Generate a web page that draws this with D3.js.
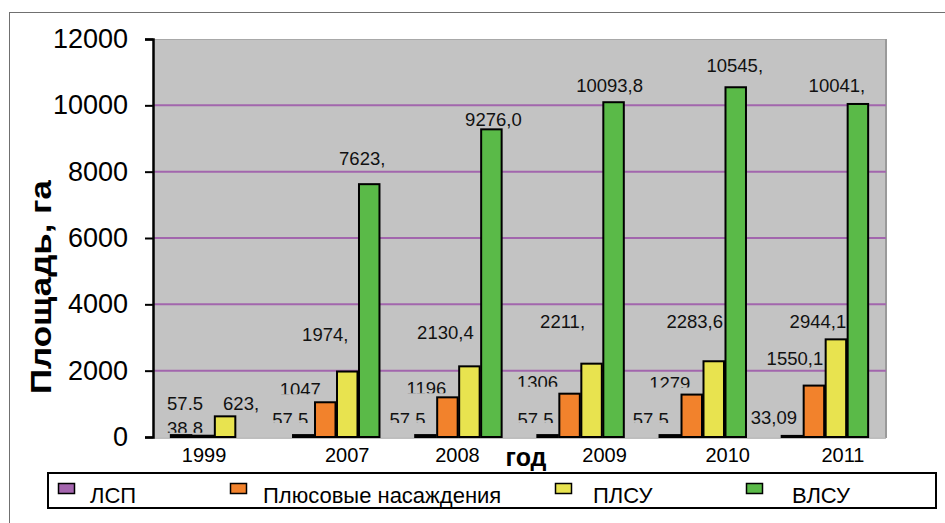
<!DOCTYPE html>
<html>
<head>
<meta charset="utf-8">
<script src="https://d3js.org/d3.v7.min.js"></script>
<style>
  body { margin: 0; background: #fff; }
  svg { display: block; font-family: "Liberation Sans", Arial, sans-serif; }
</style>
</head>
<body>
<svg width="945" height="523"></svg>
<script>
// data
var years = ["1999", "2007", "2008", "2009", "2010", "2011"];
var seriesNames = ["ЛСП", "Плюсовые насаждения", "ПЛСУ", "ВЛСУ"];
var lsp   = [57.5, 57.5, 57.5, 57.5, 57.5, 33.09];
var plus  = [38.8, 1047, 1196, 1306, 1279, 1550.1];
var plsu  = [623, 1974, 2130.4, 2211, 2283.6, 2944.1];
var vlsu  = [null, 7623, 9276, 10093.8, 10545, 10041];
// labels as they show in the picture (cut off by the chart)
var lspText  = ["57.5", "57.5", "57.5", "57.5", "57.5", "33,09"];
var plusText = ["38.8", "1047", "1196", "1306", "1279", "1550,1"];
var plsuText = ["623,", "1974,", "2130,4", "2211,", "2283,6", "2944,1"];
var vlsuText = ["", "7623,", "9276,0", "10093,8", "10545,", "10041,"];
var yTicks = [0, 2000, 4000, 6000, 8000, 10000, 12000];

var colors = ["#a465ae", "#f2822c", "#e8e34f", "#5aba48"];

// label nudges (layout only): dx from bar centre, rise of baseline above bar top, clip px
var labelDx   = [[4, -13, -18, -12, -19, -18], [-18, -25, -21, -32, -22, -19],
                 [16, -22, -24, -29, -19, -18], [0, -7, 2, -4, -1, -21]];
var labelRise = [[25, 9, 9, 9, 9, 12], [1, 6, 2, 5, 5, 21],
                 [6, 31, 27, 36, 33, 11], [0, 19, 3, 10, 15, 12]];
var labelClip = [[0, 3, 3, 3, 3, 0], [2, 2, 2, 2, 2, 0],
                 [0, 0, 0, 0, 0, 0], [0, 0, 0, 0, 0, 0]];
var tickDx = [-10, 11, -1, 24, 25, 18];

var values = [lsp, plus, plsu, vlsu];
var texts = [lspText, plusText, plsuText, vlsuText];

var svg = d3.select("svg");
var plotL = 153, plotR = 886, plotT = 39, plotB = 437;

// outer frame (right/bottom edges fall outside the picture)
svg.append("rect")
  .attr("x", 9.5).attr("y", 12.5)
  .attr("width", 960).attr("height", 540)
  .attr("fill", "none").attr("stroke", "#707070").attr("stroke-width", 1);

var x0 = d3.scaleBand().domain(years).range([plotL, plotR])
  .paddingInner(0.28).paddingOuter(0.14);
var x1 = d3.scaleBand().domain(d3.range(seriesNames.length)).range([0, x0.bandwidth()]);
var y = d3.scaleLinear().domain([0, 12000]).range([plotB, plotT]);

// plot area
svg.append("rect")
  .attr("x", plotL).attr("y", plotT)
  .attr("width", plotR - plotL).attr("height", plotB - plotT)
  .attr("fill", "#c3c3c3");
svg.append("line")
  .attr("x1", plotL).attr("x2", plotR).attr("y1", plotT + 0.5).attr("y2", plotT + 0.5)
  .attr("stroke", "#a8a8a8").attr("stroke-width", 1);
svg.append("line")
  .attr("x1", plotR).attr("x2", plotR).attr("y1", plotT).attr("y2", plotB + 1)
  .attr("stroke", "#9a9a9a").attr("stroke-width", 2);
svg.append("line")
  .attr("x1", plotL).attr("x2", plotR).attr("y1", plotB + 1).attr("y2", plotB + 1)
  .attr("stroke", "#a8a8a8").attr("stroke-width", 1.5);

// grid lines
svg.append("g").selectAll("line")
  .data(yTicks.filter(function(t) { return t > 0 && t < 12000; }))
  .enter().append("line")
  .attr("x1", plotL).attr("x2", plotR)
  .attr("y1", function(d) { return y(d); })
  .attr("y2", function(d) { return y(d); })
  .attr("stroke", "#a266ad").attr("stroke-width", 2);

// bars
var groups = svg.append("g").selectAll("g")
  .data(years)
  .enter().append("g")
  .attr("transform", function(d) { return "translate(" + x0(d) + ",0)"; });

groups.selectAll("rect")
  .data(function(d, i) {
    return values.map(function(s, k) { return {k: k, v: s[i]}; })
      .filter(function(e) { return e.v != null; });
  })
  .enter().append("rect")
  .attr("x", function(d) { return x1(d.k) + 0.75; })
  .attr("y", function(d) { return y(d.v); })
  .attr("width", x1.bandwidth() - 1.5)
  .attr("height", function(d) { return y(0) - y(d.v); })
  .attr("fill", function(d) { return colors[d.k]; })
  .attr("stroke", "#000").attr("stroke-width", 2);

// data labels
var defs = svg.append("defs");
var labels = [];
values.forEach(function(s, k) {
  s.forEach(function(v, i) {
    if (v == null || texts[k][i] === "") return;
    labels.push({k: k, i: i, v: v, t: texts[k][i]});
  });
});

var lab = svg.append("g")
  .attr("font-size", "18.5px").attr("fill", "#111").attr("text-anchor", "middle");

labels.forEach(function(d, n) {
  var cx = x0(years[d.i]) + x1(d.k) + x1.bandwidth() / 2 + labelDx[d.k][d.i];
  var by = y(d.v) - labelRise[d.k][d.i];
  var t = lab.append("text")
    .attr("x", cx).attr("y", by)
    .text(d.t);
  var c = labelClip[d.k][d.i];
  if (c > 0) {
    defs.append("clipPath").attr("id", "lc" + n)
      .append("rect")
      .attr("x", cx - 50).attr("y", by - 30)
      .attr("width", 100).attr("height", 30 - c);
    t.attr("clip-path", "url(#lc" + n + ")");
  }
});

// y axis
var yAxis = svg.append("g")
  .attr("transform", "translate(" + plotL + ",0)")
  .call(d3.axisLeft(y).tickValues(yTicks).tickSize(8).tickPadding(17).tickFormat(d3.format("d")));
yAxis.select(".domain").attr("stroke", "#000").attr("stroke-width", 2.5);
yAxis.selectAll(".tick line").attr("stroke", "#000").attr("stroke-width", 2);
yAxis.selectAll(".tick text")
  .attr("font-family", "'Liberation Sans', Arial, sans-serif")
  .attr("font-size", "27px").attr("fill", "#000");

// x labels
svg.append("g").selectAll("text")
  .data(years)
  .enter().append("text")
  .attr("x", function(d, i) { return x0(d) + x0.bandwidth() / 2 + tickDx[i]; })
  .attr("y", 462)
  .attr("text-anchor", "middle")
  .attr("font-size", "20px").attr("fill", "#000")
  .text(function(d) { return d; });

// axis titles
svg.append("text")
  .attr("x", 526).attr("y", 466)
  .attr("text-anchor", "middle")
  .attr("font-size", "25px").attr("font-weight", "bold")
  .text("год");

svg.append("text")
  .attr("transform", "translate(51,287) rotate(-90)")
  .attr("text-anchor", "middle")
  .attr("font-size", "29px").attr("font-weight", "bold")
  .attr("textLength", 214).attr("lengthAdjust", "spacingAndGlyphs")
  .text("Площадь, га");

// legend
var legendX = [58, 230, 555, 746];
var legend = svg.append("g");
legend.append("rect")
  .attr("x", 48).attr("y", 473).attr("width", 888).attr("height", 35)
  .attr("fill", "#fff").attr("stroke", "#000").attr("stroke-width", 2);
var li = legend.selectAll("g.item")
  .data(seriesNames)
  .enter().append("g").attr("class", "item")
  .attr("transform", function(d, i) { return "translate(" + legendX[i] + ",0)"; });
li.append("rect")
  .attr("x", 0.5).attr("y", 483.5).attr("width", 16).attr("height", 10)
  .attr("fill", function(d, i) { return colors[i]; })
  .attr("stroke", "#000").attr("stroke-width", 1.5);
li.append("text")
  .attr("x", function(d, i) { return [32, 33, 38, 46][i]; })
  .attr("y", 503)
  .attr("font-size", "22px").attr("fill", "#000")
  .text(function(d) { return d; });
</script>
</body>
</html>
